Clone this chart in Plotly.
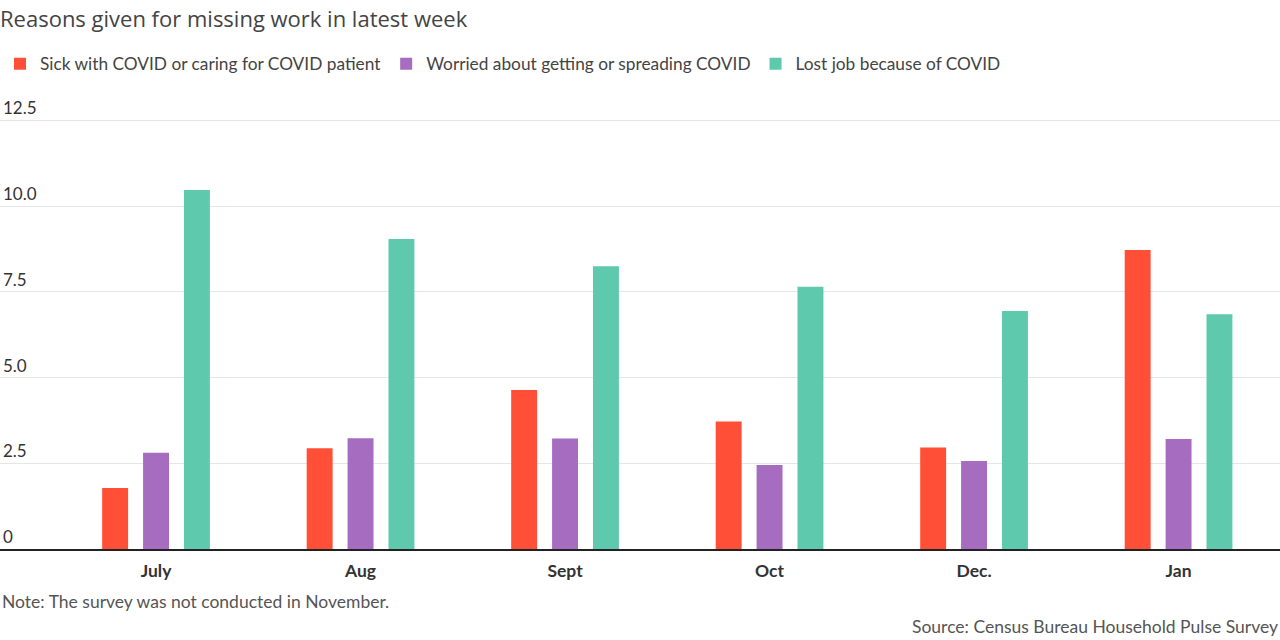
import plotly.graph_objects as go

# Survey months (no November survey)
months = ['July', 'Aug', 'Sept', 'Oct', 'Dec.', 'Jan']

# Share of workers missing work, by reason
sick = [1.78, 2.94, 4.64, 3.72, 2.96, 8.72]
worried = [2.81, 3.23, 3.22, 2.45, 2.57, 3.21]
lost_job = [10.47, 9.04, 8.25, 7.65, 6.94, 6.85]

y_ticks = [0, 2.5, 5.0, 7.5, 10.0, 12.5]
y_tick_labels = ['0', '2.5', '5.0', '7.5', '10.0', '12.5']

font = 'Lato, "Open Sans", sans-serif'

fig = go.Figure()
fig.add_trace(go.Bar(x=months, y=sick, name='Sick with COVID or caring for COVID patient',
                     marker_color='#ff4f37'))
fig.add_trace(go.Bar(x=months, y=worried, name='Worried about getting or spreading COVID',
                     marker_color='#a66cc0'))
fig.add_trace(go.Bar(x=months, y=lost_job, name='Lost job because of COVID',
                     marker_color='#5fc9ae'))

fig.update_traces(marker_line_width=0, hoverinfo='skip')

fig.update_layout(
    width=1280, height=640,
    margin=dict(l=0, r=0, t=93, b=91),
    paper_bgcolor='white', plot_bgcolor='white',
    font=dict(family=font, size=16, color='#333333'),
    barmode='group', bargap=0.40, bargroupgap=0.366,
    showlegend=True,
    title=dict(text='Reasons given for missing work in latest week',
               xref='container', yref='container', x=0.0, y=1 - 19 / 640,
               xanchor='left', yanchor='middle',
               font=dict(family='"Open Sans", sans-serif', size=22, color='#444444')),
    legend=dict(orientation='h', xref='container', yref='container',
                x=0.0, y=1 - 64 / 640, xanchor='left', yanchor='middle',
                font=dict(family=font, size=17.3, color='#444444'),
                itemclick=False, itemdoubleclick=False,
                traceorder='normal', itemwidth=30),
)

fig.update_xaxes(
    type='category', range=[-0.763, 5.496],
    showgrid=False, ticks='', showline=True, linecolor='#222222', linewidth=1.5,
    tickfont=dict(family=font, size=17.5, color='#333333', weight='bold'),
    ticklabelstandoff=5,
    fixedrange=True,
)
fig.update_yaxes(
    range=[0, 13.3], tickvals=y_ticks, ticktext=y_tick_labels,
    ticklabelposition='inside top',
    showgrid=True, gridcolor='#e6e6e6', gridwidth=1,
    zeroline=False, showline=False,
    tickfont=dict(family=font, size=17, color='#333333'),
    fixedrange=True,
)

fig.add_annotation(text='Note: The survey was not conducted in November.',
                   xref='paper', yref='paper', x=0, y=(549 - 601) / 456,
                   xanchor='left', yanchor='middle', showarrow=False,
                   font=dict(family=font, size=17.5, color='#555555'))
fig.add_annotation(text='Source: Census Bureau Household Pulse Survey',
                   xref='paper', yref='paper', x=1, y=(549 - 626) / 456,
                   xanchor='right', yanchor='middle', showarrow=False,
                   font=dict(family=font, size=17.5, color='#555555'))

fig.write_html('out.html', config={'displayModeBar': False},
               post_script="document.body.style.margin='0';")
